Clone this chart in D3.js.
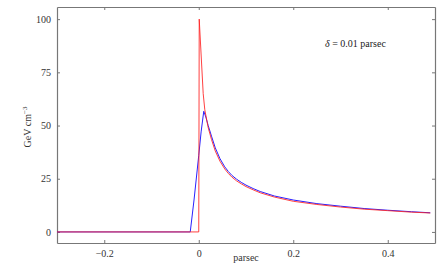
<!DOCTYPE html>
<html>
<head>
  <meta charset="utf-8">
  <script src="https://cdn.jsdelivr.net/npm/d3@7"></script>
  <style>
    body { margin: 0; background: #fff; }
    svg text { font-family: "Liberation Serif", "DejaVu Serif", serif; }
  </style>
</head>
<body>
  <div id="chart"></div>
  <script>
    // values (parsec, GeV cm^-3)
    const redX = [-0.3, 0, 0.001, 0.0094, 0.0128, 0.02, 0.027, 0.035, 0.045, 0.055, 0.0626, 0.07, 0.08, 0.09, 0.1, 0.115, 0.13, 0.16, 0.2, 0.25, 0.3, 0.35, 0.4, 0.45, 0.49];
    const redY = [0, 0, 100, 65, 57.4, 49, 43.4, 38, 33.2, 29.6, 27.5, 25.8, 24, 22.6, 21.3, 19.8, 18.4, 16.4, 14.4, 12.9, 11.7, 10.7, 10.0, 9.3, 8.9];
    const blueX = [-0.3, -0.018, -0.01, 0, 0.005, 0.0106, 0.015, 0.02, 0.027, 0.035, 0.045, 0.055, 0.0626, 0.07, 0.08, 0.09, 0.1, 0.115, 0.13, 0.16, 0.2, 0.25, 0.3, 0.35, 0.4, 0.45, 0.49];
    const blueY = [0, 0, 15, 36, 47, 56.7, 54, 50, 45, 39.5, 34.4, 30.6, 28.4, 26.6, 24.8, 23.3, 22, 20.4, 19, 16.9, 15, 13.3, 12.1, 11, 10.2, 9.5, 9.0];
    const xTicks = [-0.2, 0, 0.2, 0.4];
    const yTicks = [0, 25, 50, 75, 100];

    const width = 443, height = 277;
    const mLeft = 57, mRight = 435, mTop = 7, mBottom = 243;
    const serif = "Liberation Serif, DejaVu Serif, serif";

    const svg = d3.select("#chart").append("svg")
      .attr("width", width)
      .attr("height", height);

    const x = d3.scaleLinear().domain([-0.3, 0.5]).range([mLeft, mRight]);
    const y = d3.scaleLinear().domain([-5.2, 105.7]).range([mBottom, mTop]);

    const fmt = d => d === 0 ? "0" : d3.format("")(d).replace("-", "\u2212");

    // frame with inward ticks on all four sides
    svg.append("g").attr("transform", `translate(0,${mBottom})`)
      .call(d3.axisBottom(x).tickValues(xTicks).tickSizeInner(-3).tickSizeOuter(0).tickPadding(7).tickFormat(fmt));
    svg.append("g").attr("transform", `translate(0,${mTop})`)
      .call(d3.axisTop(x).tickValues(xTicks).tickSizeInner(-3).tickSizeOuter(0).tickFormat(""));
    svg.append("g").attr("transform", `translate(${mLeft},0)`)
      .call(d3.axisLeft(y).tickValues(yTicks).tickSizeInner(-3).tickSizeOuter(0).tickPadding(6).tickFormat(fmt));
    svg.append("g").attr("transform", `translate(${mRight},0)`)
      .call(d3.axisRight(y).tickValues(yTicks).tickSizeInner(-3).tickSizeOuter(0).tickFormat(""));

    svg.selectAll("g").attr("font-family", serif);
    svg.selectAll(".domain").attr("stroke", "#777").attr("stroke-width", 1.2);
    svg.selectAll(".tick line").attr("stroke", "#777");
    svg.selectAll(".tick text").attr("font-size", 10).attr("fill", "#333");

    const line = d3.line().x(d => x(d[0])).y(d => y(d[1]));

    svg.append("path")
      .datum(blueX.map((v, i) => [v, blueY[i]]))
      .attr("fill", "none").attr("stroke", "#2a20ff").attr("stroke-width", 1)
      .attr("d", line);

    svg.append("path")
      .datum(redX.map((v, i) => [v, redY[i]]))
      .attr("fill", "none").attr("stroke", "#ff2020").attr("stroke-width", 1)
      .attr("opacity", 0.85)
      .attr("d", line);

    // labels
    svg.append("text")
      .attr("x", (mLeft + mRight) / 2).attr("y", 261)
      .attr("text-anchor", "middle").attr("font-size", 10).attr("fill", "#333")
      .text("parsec");

    const yl = svg.append("text")
      .attr("transform", `translate(31,127) rotate(-90)`)
      .attr("text-anchor", "middle").attr("font-size", 10).attr("fill", "#333");
    yl.append("tspan").text("GeV cm");
    yl.append("tspan").attr("dy", -4).attr("font-size", 7).text("\u22123");

    const note = svg.append("text")
      .attr("x", 325).attr("y", 47)
      .attr("font-size", 10).attr("fill", "#222");
    note.append("tspan").attr("font-style", "italic").text("\u03b4");
    note.append("tspan").text(" = 0.01 parsec");
  </script>
</body>
</html>
